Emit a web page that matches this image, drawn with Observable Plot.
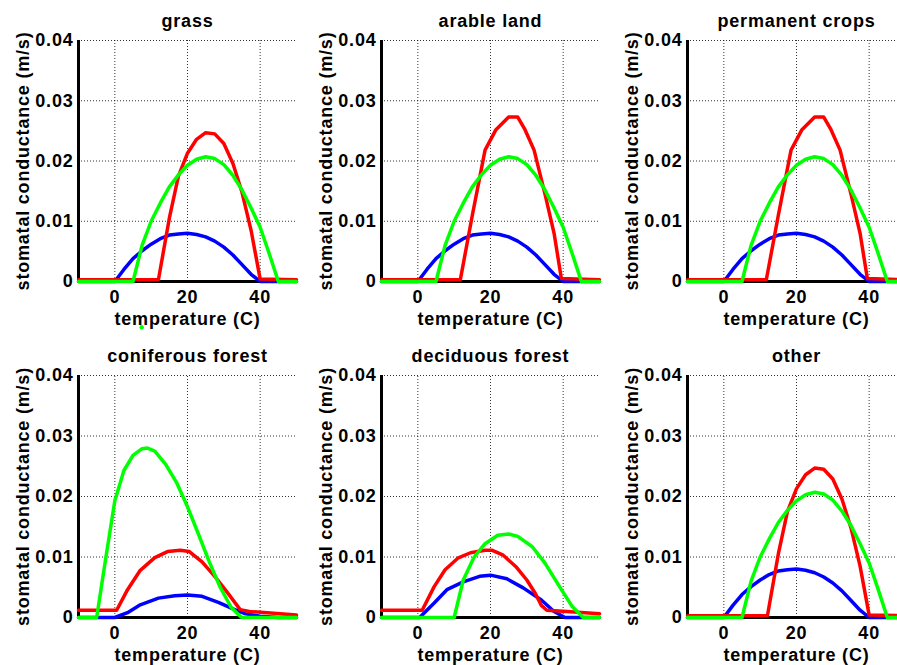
<!DOCTYPE html>
<html><head><meta charset="utf-8">
<script src="https://cdn.jsdelivr.net/npm/d3@7"></script>
<script src="https://cdn.jsdelivr.net/npm/@observablehq/plot@0.6"></script>
<style>
html,body{margin:0;padding:0;background:#fff;}
#chart{position:relative;width:897px;height:665px;overflow:hidden;background:#fff;}
</style></head><body><div id="chart"></div>
<script>
// ---- data: [temperature (C), stomatal conductance (m/s)] ----
const panelTitles = ["grass", "arable land", "permanent crops", "coniferous forest", "deciduous forest", "other"];
const xTicks = [0, 20, 40];
const yTicks = [0, 0.01, 0.02, 0.03, 0.04];
const xLabel = "temperature (C)";
const yLabel = "stomatal conductance (m/s)";

const grassBlue = [[-10,0],[0,0],[2.5,0.002],[5,0.0038],[7.5,0.0051],[10,0.0062],[12.5,0.0071],[15,0.0077],[17.5,0.0079],[20,0.008],[22.5,0.0078],[25,0.0074],[27.5,0.0067],[30,0.0057],[32.5,0.0044],[35,0.0028],[37.5,0.0012],[40,0],[50,0]];
const grassRed = [[-10,0.0003],[12,0.0003],[15,0.0105],[17.5,0.0175],[20,0.0213],[22.5,0.0236],[25,0.0247],[27.5,0.0245],[30,0.0229],[32.5,0.0196],[35,0.0148],[37.5,0.0085],[40,0.0004],[50,0.0003]];
const grassGreen = [[-10,0],[5,0],[7.5,0.006],[10,0.01],[12.5,0.013],[15,0.0157],[17.5,0.0177],[20,0.0193],[22.5,0.0203],[25,0.0207],[27.5,0.0204],[30,0.0194],[32.5,0.0176],[35,0.0152],[37.5,0.0122],[40,0.009],[42.5,0.0046],[45,0],[50,0]];
const grassStray = [[7.4,-0.0076]];

const arableBlue = grassBlue;
const arableRed = [[-10,0.0003],[11.7,0.0003],[15,0.011],[18.5,0.0218],[21.5,0.0252],[25,0.0273],[27.5,0.0273],[29.5,0.0252],[32,0.0218],[35,0.0145],[37.5,0.008],[39.5,0.0005],[50,0.0003]];
const arableGreen = grassGreen;

const permanentBlue = grassBlue;
const permanentRed = arableRed;
const permanentGreen = grassGreen;

const coniferBlue = [[-10,0],[0,0],[3.5,0.0008],[7,0.0021],[12,0.0032],[16.5,0.0036],[20,0.0037],[24,0.0035],[28.5,0.0025],[33,0.0013],[36,0.0006],[40,0.0002],[45,0],[50,0]];
const coniferRed = [[-10,0.0012],[0.5,0.0012],[3.5,0.0046],[7,0.0078],[11,0.0099],[14.5,0.0109],[18,0.0111],[20.5,0.0109],[24,0.0092],[27.5,0.0068],[31,0.0041],[34.5,0.0013],[37,0.001],[42,0.0008],[50,0.0004]];
const coniferGreen = [[-10,0],[-5,0],[-2.5,0.0098],[0,0.0193],[2.5,0.0243],[5,0.0268],[7.5,0.0279],[9,0.028],[11,0.0275],[14,0.0253],[17,0.0223],[20,0.0183],[23,0.0138],[26,0.0092],[29,0.005],[32,0.0017],[34.5,0.0002],[35,0],[50,0]];

const deciduousBlue = [[-10,0],[0.5,0],[4.5,0.0024],[8,0.0046],[12.5,0.0059],[17,0.0068],[20,0.007],[24.5,0.0064],[29,0.0049],[34,0.0029],[37.5,0.001],[40.5,0],[50,0]];
const deciduousRed = [[-10,0.0012],[1.2,0.0012],[4.5,0.0051],[7.5,0.0079],[11,0.0098],[14.5,0.0107],[18.5,0.0111],[20.5,0.0111],[23.5,0.0103],[27,0.0084],[30,0.0062],[32.3,0.004],[34,0.002],[35.5,0.0012],[41,0.001],[50,0.0006]];
const deciduousGreen = [[-10,0],[10,0],[12.5,0.0062],[15.5,0.01],[18.5,0.0122],[22,0.0136],[25,0.0138],[27.5,0.0134],[31.5,0.0117],[35,0.009],[39,0.0051],[42.5,0.0018],[45.5,0],[50,0]];

const otherBlue = grassBlue;
const otherRed = grassRed;
const otherGreen = grassGreen;

const panelSeries = [
  [grassBlue, grassRed, grassGreen],
  [arableBlue, arableRed, arableGreen],
  [permanentBlue, permanentRed, permanentGreen],
  [coniferBlue, coniferRed, coniferGreen],
  [deciduousBlue, deciduousRed, deciduousGreen],
  [otherBlue, otherRed, otherGreen]
];
const seriesColors = ["#0000ff", "#ff0000", "#00ff00"];

// ---- layout ----
const colLeft = [78, 381, 687];
const rowTop = [40, 375];
const rowH = [241, 242];
const plotW = 218;
const ml = 78, mt = 40, mb = 52, mr = 2;

const toObj = arr => arr.map(([T, v]) => ({T, v}));
const chart = document.getElementById("chart");

panelTitles.forEach((title, i) => {
  const col = i % 3, row = Math.floor(i / 3);
  const h = rowH[row];
  const marks = [
    Plot.ruleY(yTicks.slice(1), {y: d => d, stroke: "#000", strokeOpacity: 0.8, strokeWidth: 1, strokeDasharray: "1,2"}),
    Plot.ruleX(xTicks, {x: d => d, y1: 0, y2: 0.04, stroke: "#000", strokeOpacity: 0.8, strokeWidth: 1, strokeDasharray: "1,2"}),
    Plot.ruleY([0], {y: d => d, stroke: "#000", strokeWidth: 3}),
    Plot.ruleX([-10], {x: d => d, y1: 0, y2: 0.04, stroke: "#000", strokeWidth: 3}),
    Plot.axisX(xTicks, {tickSize: 0, tickPadding: 9, label: null}),
    Plot.axisY(yTicks, {tickSize: 0, tickPadding: 5, label: null, tickFormat: d => d === 0 ? "0" : d.toFixed(2)}),
    ...panelSeries[i].map((s, k) => Plot.line(toObj(s), {x: "T", y: "v", stroke: seriesColors[k], strokeWidth: 3.5})),
    Plot.text([title], {text: d => d, frameAnchor: "top", dy: -14, lineAnchor: "bottom", textAnchor: "middle"}),
    Plot.text([xLabel], {text: d => d, frameAnchor: "bottom", dy: 43, lineAnchor: "bottom", textAnchor: "middle"}),
    Plot.text([yLabel], {text: d => d, frameAnchor: "left", dx: -49.5, rotate: -90, lineAnchor: "bottom", textAnchor: "middle"})
  ];
  if (i === 0) marks.push(Plot.dot(toObj(grassStray), {x: "T", y: "v", r: 2.2, fill: "#00ff00", stroke: "none"}));
  const svg = Plot.plot({
    width: ml + plotW + mr,
    height: mt + h + mb,
    marginLeft: ml, marginRight: mr, marginTop: mt, marginBottom: mb,
    x: {domain: [-10, 50]},
    y: {domain: [0, 0.04]},
    style: {fontFamily: "'Liberation Sans', Arial, Helvetica, sans-serif", fontSize: "18px", fontWeight: "bold", letterSpacing: "0.8px", color: "#000", background: "transparent", overflow: "visible"},
    marks
  });
  svg.style.position = "absolute";
  svg.style.left = (colLeft[col] - ml) + "px";
  svg.style.top = (rowTop[row] - mt) + "px";
  chart.appendChild(svg);
});
</script>
</body></html>
